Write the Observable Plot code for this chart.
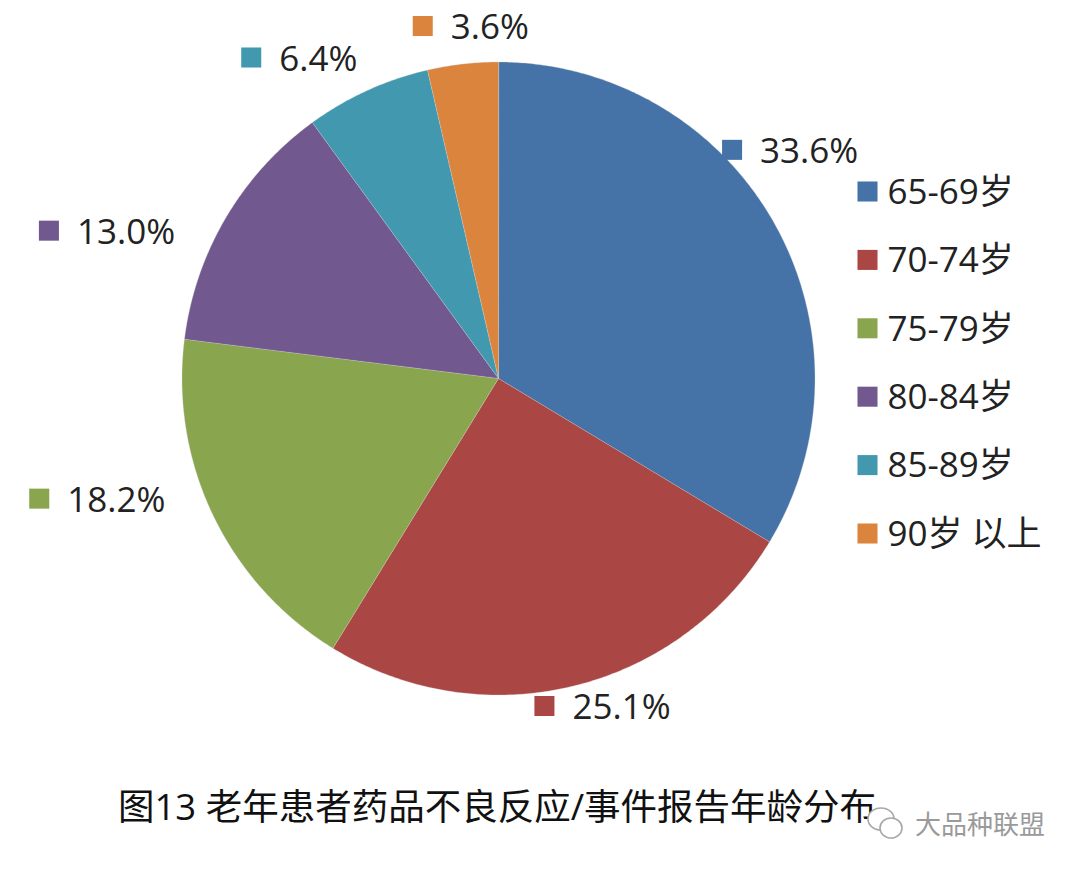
<!DOCTYPE html>
<html lang="zh">
<head>
<meta charset="utf-8">
<script src="https://cdn.jsdelivr.net/npm/d3@7"></script>
<script src="https://cdn.jsdelivr.net/npm/@observablehq/plot@0.6"></script>
<style>
  html, body { margin: 0; padding: 0; background: #fff; }
  body { width: 1080px; height: 874px; overflow: hidden; font-family: "Open Sans", "Noto Sans CJK SC", sans-serif; }
  #chart svg { display: block; }
  #caption { position: relative; width: 1080px; height: 104px; }
  #title { position: absolute; left: 118px; top: 6px; font-size: 36.5px; line-height: 60px; color: #111; white-space: nowrap; }
  #mark { position: absolute; left: 866px; top: 32px; display: flex; align-items: center; color: #9a9a9a; font-size: 26px; line-height: 44px; }
  #mark svg { margin-right: 9px; }
</style>
</head>
<body>
<div id="chart"></div>
<div id="caption">
  <div id="title">图13 老年患者药品不良反应/事件报告年龄分布</div>
  <div id="mark"><svg width="40" height="42" viewBox="0 0 40 42" fill="#fff" stroke="#a8a8a8" stroke-width="1.6"><ellipse cx="15" cy="16" rx="13" ry="11"/><ellipse cx="25" cy="25" rx="11" ry="10"/></svg><span>大品种联盟</span></div>
</div>
<script>
const ages = ["65-69岁", "70-74岁", "75-79岁", "80-84岁", "85-89岁", "90岁 以上"];
const shares = [33.6, 25.1, 18.2, 13.0, 6.4, 3.6];
const labels = ["33.6%", "25.1%", "18.2%", "13.0%", "6.4%", "3.6%"];
const colors = ["#4572a7", "#aa4643", "#89a54e", "#71588f", "#4198af", "#db843d"];

// Layout, in page pixels (the x and y scales are 1:1)
const W = 1080, H = 770;
const cx = 498, cy = 378, R = 316.5;
const labelOffsets = [[-42, -73], [-29, 20], [-174, -17], [-177, 13], [-116, -33], [-40, -38]];
const legendX = 867, legendTop = 191, legendStep = 68.4;
const font = 35;

const polar = (r, a) => [cx + r * Math.sin(a), cy - r * Math.cos(a)];
const arcs = d3.pie().sort(null).value(d => d)(shares);

// Each slice is a closed outline: centre, then along the rim
const outline = arcs.flatMap((arc, i) => {
  const steps = Math.ceil((arc.endAngle - arc.startAngle) * 120);
  const rim = d3.range(steps + 1).map(k => {
    const [x, y] = polar(R, arc.startAngle + (arc.endAngle - arc.startAngle) * k / steps);
    return {age: ages[i], x, y};
  });
  return [{age: ages[i], x: cx, y: cy}, ...rim];
});

const dataLabels = arcs.map((arc, i) => {
  const [x, y] = polar(R, (arc.startAngle + arc.endAngle) / 2);
  return {age: ages[i], label: labels[i], x: x + labelOffsets[i][0], y: y + labelOffsets[i][1]};
});

const legend = ages.map((age, i) => ({age, x: legendX, y: legendTop + i * legendStep}));

const plot = Plot.plot({
  width: W, height: H,
  margin: 0,
  style: {background: "#fff", fontFamily: '"Open Sans", "Noto Sans CJK SC", sans-serif', overflow: "visible"},
  x: {domain: [0, W], range: [0, W], axis: null},
  y: {domain: [0, H], range: [0, H], axis: null},
  color: {domain: ages, range: colors},
  marks: [
    Plot.line(outline, {x: "x", y: "y", z: "age", fill: "age", stroke: "#d8d8d8", strokeWidth: 0.7, strokeOpacity: 0.45, curve: "linear-closed"}),
    Plot.dot(dataLabels, {x: "x", y: "y", fill: "age", symbol: "square", r: 11.3}),
    Plot.text(dataLabels, {x: "x", y: "y", text: "label", dx: 28, dy: 2, textAnchor: "start", fontSize: font, fill: "#222"}),
    Plot.dot(legend, {x: "x", y: "y", fill: "age", symbol: "square", r: 11.3}),
    Plot.text(legend, {x: "x", y: "y", text: "age", dx: 20, dy: 1, textAnchor: "start", fontSize: font, fill: "#222"})
  ]
});
document.getElementById("chart").appendChild(plot);
</script>
</body>
</html>
